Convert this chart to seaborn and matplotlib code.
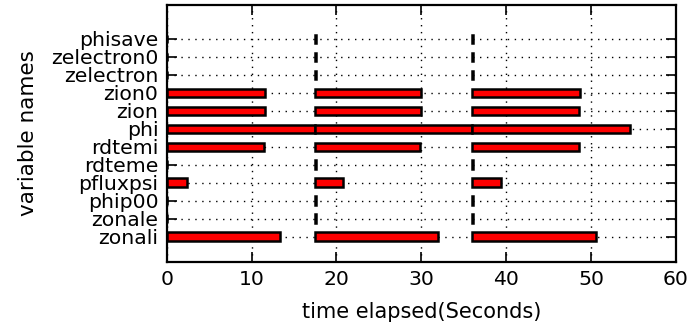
import matplotlib
matplotlib.use("Agg")
import matplotlib.pyplot as plt
import pandas as pd
import seaborn as sns

# variable names, top to bottom
names = ["phisave", "zelectron0", "zelectron", "zion0", "zion", "phi",
         "rdtemi", "rdteme", "pfluxpsi", "phip00", "zonale", "zonali"]

# start time of each of the three phases (seconds)
starts = [0.0, 17.5, 36.0]

# time spent per variable in each phase (seconds)
dur_1 = [0.0, 0.0, 0.0, 11.6, 11.6, 17.5, 11.5, 0.0, 2.4, 0.0, 0.0, 13.4]
dur_2 = [0.1, 0.1, 0.1, 12.5, 12.5, 18.5, 12.4, 0.1, 3.3, 0.1, 0.1, 14.5]
dur_3 = [0.1, 0.1, 0.1, 12.7, 12.6, 18.6, 12.6, 0.1, 3.4, 0.1, 0.1, 14.6]

sns.set_style("white")
plt.rcParams["font.family"] = ["DejaVu Sans"]
plt.rcParams["text.color"] = "black"
plt.rcParams["axes.labelcolor"] = "black"

fig = plt.figure(figsize=(6.93, 3.27), dpi=100)
ax = fig.add_axes([0.2405, 0.1997, 0.735, 0.785])

bar_kw = dict(color="red", edgecolor="black", linewidth=1.8, height=0.48)

df = pd.DataFrame({"name": names, "t": dur_1})
sns.barplot(data=df, x="t", y="name", order=names, orient="h", ax=ax,
            width=0.48, color="red", edgecolor="black", linewidth=1.8,
            saturation=1, zorder=3)

for s, d in zip(starts[1:], [dur_2, dur_3]):
    ax.barh(range(len(names)), d, left=s, zorder=3, **bar_kw)

ax.set_xlim(0, 60)
ax.set_xticks(range(0, 61, 10))
ax.set_ylim(len(names) - 1 + 1.39, -1.89)

ax.grid(True, color="black", linestyle=(0, (1, 4)), linewidth=1, zorder=0)
ax.set_axisbelow(True)

for sp in ax.spines.values():
    sp.set_visible(True)
    sp.set_color("black")
    sp.set_linewidth(1.6)

ax.tick_params(axis="both", direction="in", length=7, width=1.2,
               labelsize=14.7, colors="black", labelcolor="black", pad=6,
               top=True, right=True, bottom=True, left=True)

ax.set_xlabel("time elapsed(Seconds)", fontsize=15, labelpad=9)
ax.set_ylabel("variable names", fontsize=15.5, labelpad=9)

fig.savefig("out.png", dpi=100)
